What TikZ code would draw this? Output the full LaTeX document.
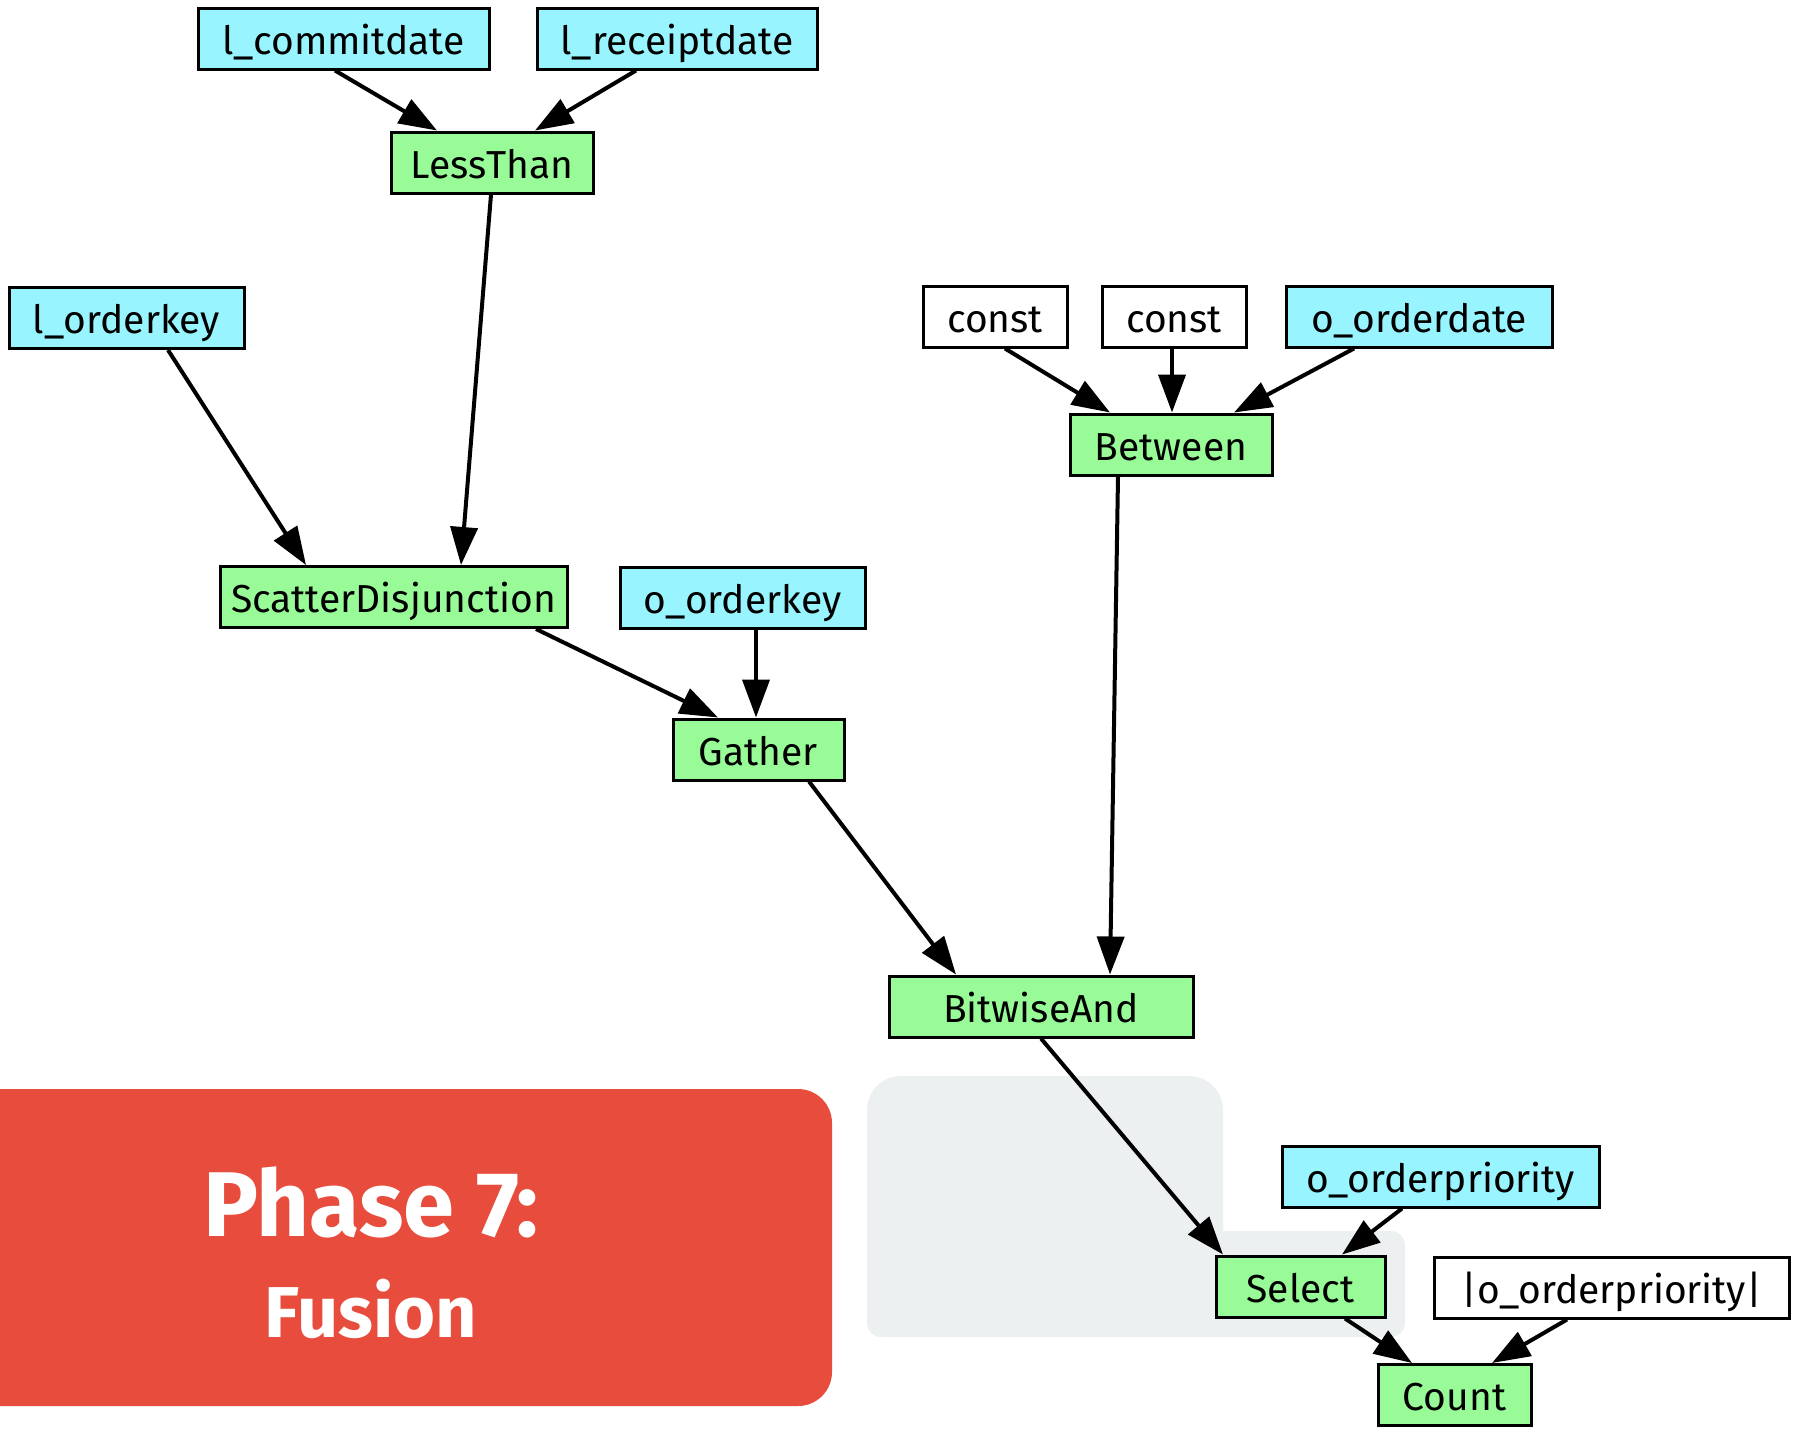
\documentclass[tikz,border=0pt]{standalone}
\usepackage{fontspec}
\setmainfont{Fira Sans}
\usetikzlibrary{arrows.meta}
\definecolor{colcol}{HTML}{98F5FF}
\definecolor{opcol}{HTML}{98FB98}
\definecolor{phasered}{HTML}{E74C3C}
\definecolor{groupgray}{HTML}{ECF0F1}
\tikzset{
  box/.style={draw=black, line width=3pt, rectangle, inner sep=0pt,
    minimum height=61pt, text height=31pt, text depth=0pt,
    font=\fontsize{39}{46}\selectfont},
  colbox/.style={box, fill=colcol},
  opbox/.style={box, fill=opcol},
  constbox/.style={box, fill=white},
  edge/.style={line width=4pt, -{Triangle[length=38pt, width=27pt]}},
}
\begin{document}
\begin{tikzpicture}[x=1pt, y=1pt]
\useasboundingbox (0,0) rectangle (1795,-1428);
\fill[white] (0,0) rectangle (1795,-1428);

% fused group background
\fill[groupgray, rounded corners=34pt] (867,-1076) rectangle (1223,-1300);
\fill[groupgray, rounded corners=14pt] (867,-1231) rectangle (1405,-1337);

% phase banner
\fill[phasered, rounded corners=34pt] (-60,-1089) rectangle (832,-1406);
\node[text=white, font=\fontsize{92}{100}\selectfont\bfseries, anchor=base] (ptitle) at (371,-1236) {Phase 7:};
\node[text=white, font=\fontsize{72}{80}\selectfont\bfseries, anchor=base] (psub) at (371,-1337) {Fusion};

% nodes
\node[colbox, minimum width=291pt] (lc) at (343.5,-38.5) {l\_commitdate};
\node[colbox, minimum width=280pt] (lr) at (677,-38.5) {l\_receiptdate};
\node[opbox, minimum width=202pt] (lt) at (492,-162.5) {LessThan};
\node[colbox, minimum width=235pt] (lo) at (126.5,-318) {l\_orderkey};
\node[constbox, minimum width=144pt] (c1) at (995,-316.5) {const};
\node[constbox, minimum width=144pt] (c2) at (1174,-316.5) {const};
\node[colbox, minimum width=266pt] (od) at (1419,-316.5) {o\_orderdate};
\node[opbox, minimum width=202pt] (bt) at (1171,-444.5) {Between};
\node[opbox, minimum width=347pt] (sd) at (393.5,-597) {ScatterDisjunction};
\node[colbox, minimum width=245pt] (ok) at (742.5,-598) {o\_orderkey};
\node[opbox, minimum width=171pt] (ga) at (758.5,-749.5) {Gather};
\node[opbox, minimum width=304pt] (ba) at (1041,-1006.5) {BitwiseAnd};
\node[colbox, minimum width=317pt] (op) at (1440.5,-1176.5) {o\_orderpriority};
\node[opbox, minimum width=169pt] (se) at (1300.5,-1286.5) {Select};
\node[constbox, minimum width=355pt] (ab) at (1611.5,-1287.5) {|o\_orderpriority|};
\node[opbox, minimum width=153pt] (co) at (1454.5,-1395) {Count};

% connectors
\draw[edge] ([xshift=-8.5pt]lc.south) -- ([xshift=-55pt]lt.north);
\draw[edge] ([xshift=-41pt]lr.south) -- ([xshift=43pt]lt.north);
\draw[edge] ([xshift=-1pt]lt.south) -- ([xshift=67.5pt]sd.north);
\draw[edge] ([xshift=41.5pt]lo.south) -- ([xshift=-87.5pt]sd.north);
\draw[edge] ([xshift=10pt]c1.south) -- ([xshift=-61pt]bt.north);
\draw[edge] ([xshift=-2pt]c2.south) -- ([xshift=1pt]bt.north);
\draw[edge] ([xshift=-65pt]od.south) -- ([xshift=63pt]bt.north);
\draw[edge] ([xshift=-53pt]bt.south) -- ([xshift=69pt]ba.north);
\draw[edge] ([xshift=142.5pt]sd.south) -- ([xshift=-40.5pt]ga.north);
\draw[edge] ([xshift=13.5pt]ok.south) -- ([xshift=-2.5pt]ga.north);
\draw[edge] ([xshift=50.5pt]ga.south) -- ([xshift=-85pt]ba.north);
\draw[edge] (ba.south) -- ([xshift=-77.5pt]se.north);
\draw[edge] ([xshift=-38.5pt]op.south) -- ([xshift=41.5pt]se.north);
\draw[edge] ([xshift=44.5pt]se.south) -- ([xshift=-42.5pt]co.north);
\draw[edge] ([xshift=-44.5pt]ab.south) -- ([xshift=37.5pt]co.north);
\end{tikzpicture}
\end{document}
